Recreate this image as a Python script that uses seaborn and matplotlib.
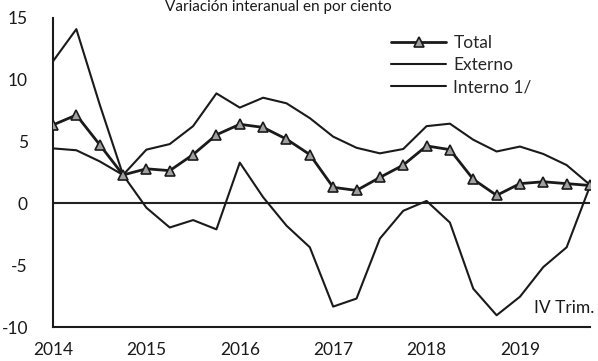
import numpy as np
import pandas as pd
import matplotlib
matplotlib.use('Agg')
import matplotlib.pyplot as plt
import seaborn as sns

# datos trimestrales 2014 I - 2019 IV
años = ['2014', '2015', '2016', '2017', '2018', '2019']
total = [6.35, 7.15, 4.75, 2.3, 2.8, 2.65, 3.95, 5.55, 6.4, 6.15, 5.2, 3.95,
         1.3, 1.05, 2.1, 3.1, 4.65, 4.35, 1.95, 0.65, 1.6, 1.75, 1.6, 1.45]
externo = [11.5, 14.1, 8.0, 2.3, -0.35, -1.95, -1.35, -2.1, 3.3, 0.5, -1.8, -3.55,
           -8.35, -7.7, -2.85, -0.6, 0.2, -1.55, -6.9, -9.05, -7.55, -5.15, -3.55, 1.4]
interno = [4.45, 4.3, 3.4, 2.3, 4.35, 4.8, 6.25, 8.9, 7.75, 8.55, 8.1, 6.9,
           5.4, 4.5, 4.05, 4.4, 6.25, 6.45, 5.15, 4.2, 4.6, 4.0, 3.1, 1.5]

df = pd.DataFrame({'t': np.arange(len(total)), 'Total': total,
                   'Externo': externo, 'Interno 1/': interno})

sns.set_theme(style='white')
plt.rcParams['font.family'] = ['Lato', 'DejaVu Sans']
plt.rcParams['font.size'] = 12.5
plt.rcParams['axes.unicode_minus'] = False

fig = plt.figure(figsize=(5.98, 3.61), dpi=100)
ax = fig.add_axes([53/598, 34/361, 537/598, 309/361])

ax.axhline(0, color='#222222', lw=1.5, zorder=1)
sns.lineplot(data=df, x='t', y='Total', ax=ax, color='#1a1a1a', lw=2,
             marker='^', markersize=7, markerfacecolor='#a0a0a0',
             markeredgecolor='#1a1a1a', markeredgewidth=1.2, label='Total', zorder=3)
sns.lineplot(data=df, x='t', y='Externo', ax=ax, color='#1a1a1a', lw=1.5,
             label='Externo', zorder=2)
sns.lineplot(data=df, x='t', y='Interno 1/', ax=ax, color='#1a1a1a', lw=1.5,
             label='Interno 1/', zorder=2)

ax.set_xlim(0, 23)
ax.set_ylim(-10, 15)
ax.set_yticks([-10, -5, 0, 5, 10, 15])
ax.set_xticks(range(0, 24, 4))
ax.set_xticklabels(años)
ax.set_xlabel('')
ax.set_ylabel('')
ax.tick_params(axis='both', which='both', direction='out', length=4, width=1.2,
               colors='#1a1a1a', labelsize=12.5)
ax.tick_params(axis='y', pad=14)
ax.tick_params(axis='x', pad=7)
for s in ['top', 'right']:
    ax.spines[s].set_visible(False)
for s in ['left', 'bottom']:
    ax.spines[s].set_color('#1a1a1a')
    ax.spines[s].set_linewidth(1.5)

ax.legend(loc='upper left', bbox_to_anchor=(0.6, 0.995), frameon=False,
          handlelength=3.2, handletextpad=0.4, labelspacing=0.35, fontsize=12.5)

ax.text(20.6, -8.5, 'IV Trim.', ha='left', va='center', fontsize=12.5, color='#1a1a1a')

fig.text(278/598, 1.0, 'Variación interanual en por ciento', ha='center',
         va='top', fontsize=11, color='#1a1a1a')

fig.savefig('out.png', dpi=100)
